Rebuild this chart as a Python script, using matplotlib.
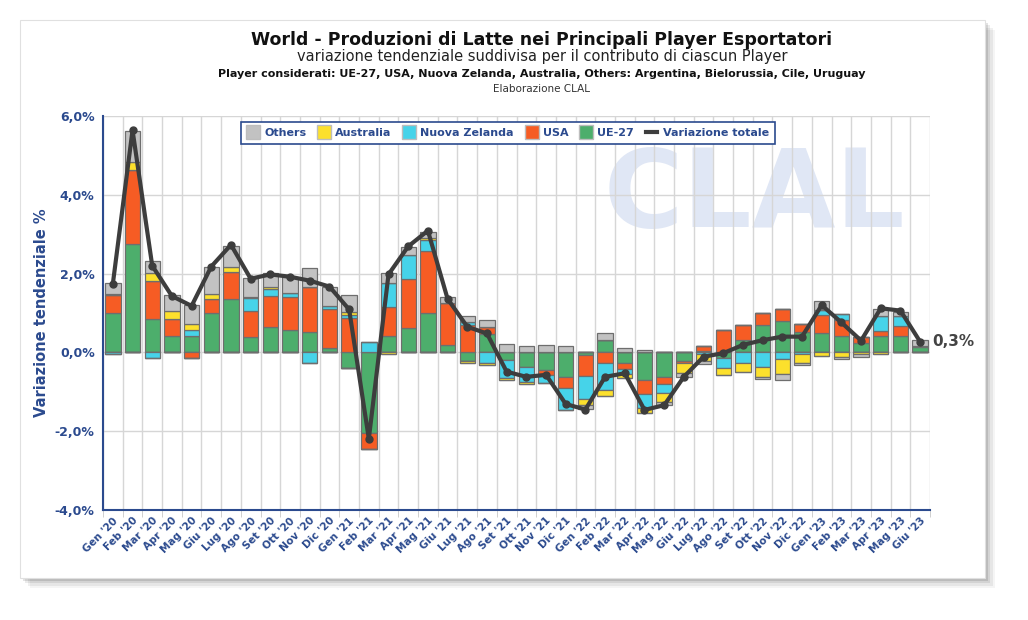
import numpy as np
import matplotlib.pyplot as plt
from matplotlib.patches import Rectangle
from matplotlib.lines import Line2D
from matplotlib.transforms import ScaledTranslation

# month labels (Gen '20 .. Giu '23)
months = ["Gen", "Feb", "Mar", "Apr", "Mag", "Giu", "Lug", "Ago", "Set", "Ott", "Nov", "Dic"]
labels = [f"{m} '{y}" for y in (20, 21, 22) for m in months] + [f"{m} '23" for m in months[:6]]

# contributions to yearly change, % points
ue27 = [0.99, 2.75, 0.84, 0.42, 0.42, 0.99, 1.35, 0.40, 0.64, 0.57, 0.53, 0.10,
        -0.39, -2.04, 0.42, 0.61, 0.99, 0.19, -0.21, 0.47, -0.19, -0.36, -0.45, -0.62,
        -0.06, 0.31, -0.28, -0.69, -0.63, -0.21, 0.04, -0.15, 0.31, 0.69, 0.80, 0.52,
        0.50, 0.42, 0.23, 0.42, 0.42, 0.13]
usa = [0.46, 1.88, 0.98, 0.44, -0.14, 0.36, 0.68, 0.65, 0.79, 0.83, 1.12, 0.99,
       0.88, -0.40, 0.72, 1.25, 1.58, 1.06, 0.70, 0.17, 0.00, 0.00, -0.13, -0.28,
       -0.55, -0.28, -0.13, -0.37, -0.17, -0.07, 0.13, 0.57, 0.38, 0.31, 0.29, 0.19,
       0.45, 0.40, 0.17, 0.12, 0.25, 0.02]
nz = [-0.04, 0.00, -0.14, 0.00, 0.15, 0.00, 0.00, 0.32, 0.17, 0.10, -0.26, 0.09,
      0.08, 0.26, 0.63, 0.61, 0.28, 0.00, 0.07, -0.28, -0.47, -0.38, -0.19, -0.55,
      -0.58, -0.68, -0.13, -0.34, -0.24, 0.00, -0.05, -0.25, -0.28, -0.38, -0.18, -0.04,
      0.13, 0.15, 0.00, 0.38, 0.25, 0.00]
australia = [0.02, 0.21, 0.19, 0.19, 0.15, 0.13, 0.13, 0.04, 0.05, 0.00, 0.00, 0.00,
             0.07, 0.00, -0.04, 0.00, 0.06, 0.00, -0.05, -0.05, -0.05, -0.06, 0.00, 0.00,
             -0.14, -0.14, -0.11, -0.14, -0.21, -0.24, -0.18, -0.17, -0.21, -0.25, -0.36, -0.22,
             -0.09, -0.11, -0.04, -0.03, 0.00, 0.00]
others = [0.29, 0.79, 0.32, 0.41, 0.48, 0.70, 0.54, 0.47, 0.36, 0.42, 0.48, 0.49,
          0.43, 0.00, 0.24, 0.21, 0.15, 0.15, 0.16, 0.18, 0.21, 0.16, 0.19, 0.16,
          -0.11, 0.17, 0.11, 0.05, -0.08, -0.10, -0.06, 0.00, 0.00, -0.05, -0.15, -0.06,
          0.23, -0.07, -0.07, 0.19, 0.11, 0.17]
totale = [1.74, 5.64, 2.20, 1.43, 1.18, 2.18, 2.73, 1.87, 1.98, 1.92, 1.82, 1.67,
          1.09, -2.19, 1.98, 2.69, 3.09, 1.36, 0.65, 0.48, -0.49, -0.62, -0.57, -1.31,
          -1.45, -0.62, -0.53, -1.46, -1.34, -0.62, -0.11, -0.02, 0.19, 0.31, 0.40, 0.40,
          1.20, 0.76, 0.30, 1.12, 1.06, 0.27]

series = [("UE-27", ue27, "#4dae6c"), ("USA", usa, "#f65c24"),
          ("Nuova Zelanda", nz, "#46d3e9"), ("Australia", australia, "#fce02c"),
          ("Others", others, "#c2c2c2")]

BLUE = "#2b4a8e"

fig = plt.figure(figsize=(10.28, 6.2), dpi=100)
fig.patch.set_facecolor("white")

# card with soft shadow
for k, a in enumerate([0.04, 0.06, 0.08, 0.11]):
    off = (4 - k) * 2.5
    fig.add_artist(Rectangle(((20 + off) / 1028, 1 - (578 + off) / 620), 965 / 1028, 558 / 620,
                             transform=fig.transFigure, facecolor="black", alpha=a,
                             edgecolor="none", zorder=-3))
fig.add_artist(Rectangle((20 / 1028, 1 - 578 / 620), 965 / 1028, 558 / 620,
                         transform=fig.transFigure, facecolor="white", edgecolor="#e0e0e0",
                         lw=0.8, zorder=-2))

ax = fig.add_axes([103 / 1028, 1 - 510 / 620, 827 / 1028, 394 / 620])
ax.set_facecolor("none")

x = np.arange(len(labels))
pos_base = np.zeros(len(x))
neg_base = np.zeros(len(x))
handles = {}
for name, vals, col in series:
    v = np.array(vals)
    pv = np.where(v > 0, v, 0)
    nv = np.where(v < 0, v, 0)
    ax.bar(x, pv, 0.78, bottom=pos_base, color=col, edgecolor="#6e6e6e", lw=0.9, zorder=3)
    ax.bar(x, nv, 0.78, bottom=neg_base, color=col, edgecolor="#6e6e6e", lw=0.9, zorder=3)
    pos_base += pv
    neg_base += nv
    handles[name] = col

ax.plot(x, totale, color="#3d3d3d", lw=3, marker="o", ms=5, zorder=5)
ax.text(x[-1] + 0.6, totale[-1], "0,3%", fontsize=11, fontweight="bold", color="#444444",
        va="center", ha="left", clip_on=False)

# watermark
ax.text(0.788, 0.795, "CLAL", transform=ax.transAxes, fontsize=78, fontweight="bold",
        color="#e0e7f5", ha="center", va="center", zorder=0)

ax.set_xlim(-0.5, len(x) - 0.5)
ax.set_ylim(-4, 6)
ax.set_yticks([-4, -2, 0, 2, 4, 6])
ax.set_yticklabels([f"{v:.1f}%".replace(".", ",") for v in [-4, -2, 0, 2, 4, 6]],
                   fontsize=9, fontweight="bold", color=BLUE)
ax.set_xticks(x)
ax.set_xticklabels(labels, rotation=45, ha="right", rotation_mode="anchor",
                   fontsize=7.5, fontweight="bold", color=BLUE)
shift = ScaledTranslation(-5 / 100, 0, fig.dpi_scale_trans)
for lab in ax.get_xticklabels():
    lab.set_transform(lab.get_transform() + shift)
ax.set_xticks(np.arange(-0.5, len(x), 1), minor=True)
ax.tick_params(axis="x", which="major", length=0, pad=4)
ax.tick_params(axis="x", which="minor", length=5, color="#c8c8c8")
ax.tick_params(axis="y", length=0, pad=6)
ax.grid(axis="x", which="minor", color="#d6d6d6", lw=1, zorder=1)
ax.grid(axis="y", which="major", color="#d6d6d6", lw=1, zorder=1)
for s in ["top", "right"]:
    ax.spines[s].set_visible(False)
for s in ["left", "bottom"]:
    ax.spines[s].set_color(BLUE)
    ax.spines[s].set_linewidth(1.5)

ax.set_ylabel("Variazione tendenziale %", fontsize=10.5, fontweight="bold", color=BLUE, labelpad=4)

leg_items = [Line2D([], [], marker="s", ls="none", ms=10, markerfacecolor=handles[n],
                    markeredgecolor="#bdbdbd") for n in ["Others", "Australia", "Nuova Zelanda", "USA", "UE-27"]]
leg_items.append(Line2D([], [], color="#3d3d3d", lw=3))
leg = ax.legend(leg_items, ["Others", "Australia", "Nuova Zelanda", "USA", "UE-27", "Variazione totale"],
                loc="upper center", bbox_to_anchor=(0.49, 1.0), ncol=6, fancybox=False,
                framealpha=1, edgecolor=BLUE, handlelength=1.0, handletextpad=0.5,
                columnspacing=1.1, borderpad=0.55, prop={"size": 8, "weight": "bold"})
leg.get_frame().set_linewidth(1.2)
for t in leg.get_texts():
    t.set_color(BLUE)
leg.set_zorder(6)

fig.text(0.527, 1 - 40 / 620, "World - Produzioni di Latte nei Principali Player Esportatori",
         ha="center", va="center", fontsize=12.5, fontweight="bold", color="#111111")
fig.text(0.527, 1 - 57 / 620, "variazione tendenziale suddivisa per il contributo di ciascun Player",
         ha="center", va="center", fontsize=10.5, color="#222222")
fig.text(0.527, 1 - 74 / 620,
         "Player considerati: UE-27, USA, Nuova Zelanda, Australia, Others: Argentina, Bielorussia, Cile, Uruguay",
         ha="center", va="center", fontsize=8, fontweight="bold", color="#111111")
fig.text(0.527, 1 - 89 / 620, "Elaborazione CLAL", ha="center", va="center", fontsize=7.5, color="#333333")

fig.savefig("out.png", dpi=100)
